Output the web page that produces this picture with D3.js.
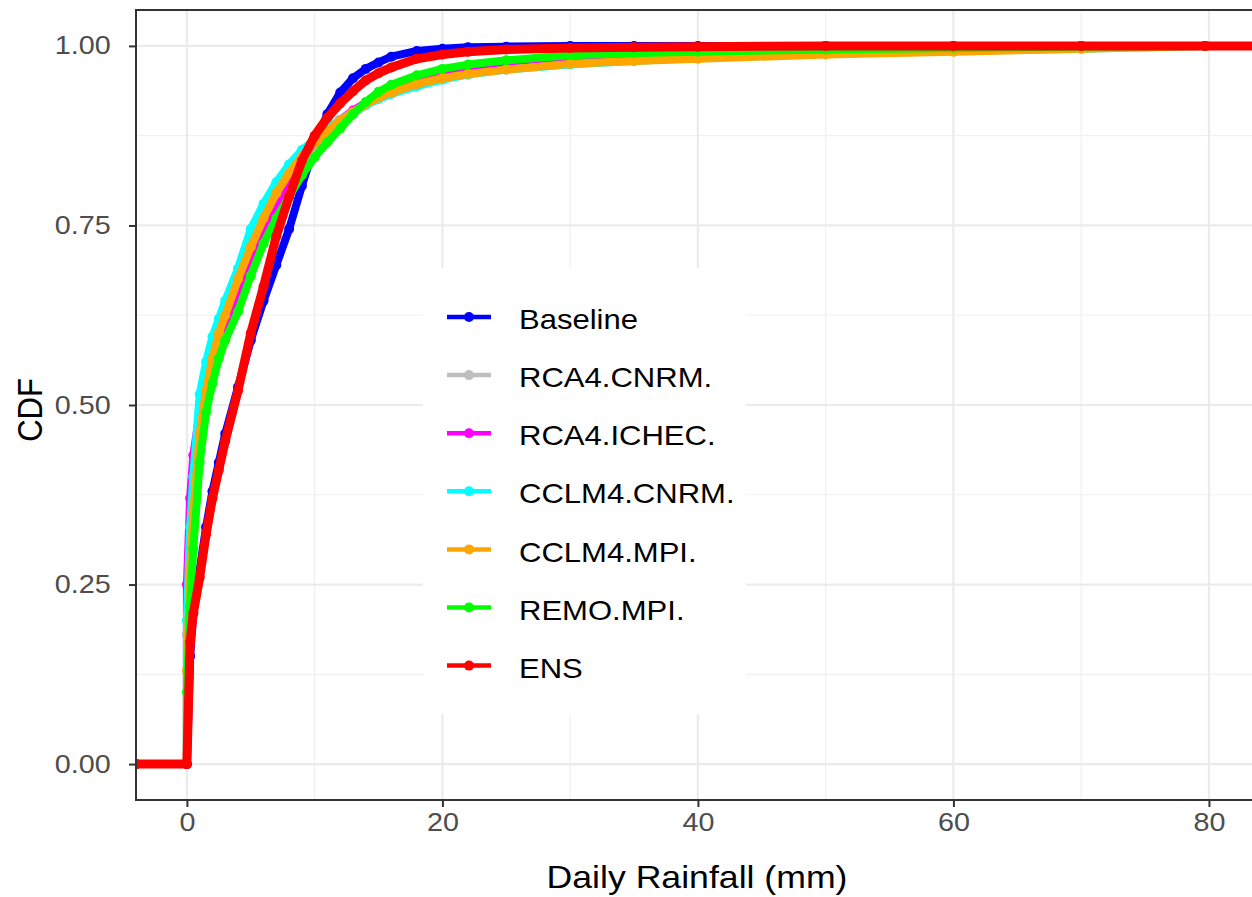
<!DOCTYPE html>
<html>
<head>
<meta charset="utf-8">
<script src="https://cdn.jsdelivr.net/npm/d3@7"></script>
<style>
  body { margin: 0; background: #fff; }
  text { font-family: "Liberation Sans", Arial, sans-serif; }
</style>
</head>
<body>
<svg id="chart" width="1252" height="897"></svg>
<script>
// daily rainfall (mm) at which each CDF is read
var rainfall = [0, 0.25, 0.5, 1, 1.5, 2, 2.5, 3, 4, 5, 6, 7, 8, 9, 10, 11, 12, 13, 14, 15, 16, 18, 20, 22, 25,
  30, 35, 40, 50, 60, 70, 79.7];

var cdfBaseline = [0, 0.15, 0.21, 0.27, 0.33, 0.38, 0.42, 0.46, 0.525, 0.59, 0.645, 0.695, 0.745, 0.805, 0.862, 0.905,
  0.935, 0.955, 0.968, 0.977, 0.985, 0.993, 0.996, 0.998, 0.999, 1, 1, 1, 1, 1, 1, 1];
var cdfRcaCnrm = [0.18, 0.30, 0.38, 0.47, 0.52, 0.56, 0.59, 0.615, 0.66, 0.705, 0.745, 0.78, 0.81, 0.836, 0.858, 0.876,
  0.892, 0.905, 0.917, 0.927, 0.936, 0.949, 0.958, 0.965, 0.972, 0.98, 0.985, 0.988, 0.992, 0.995, 0.998, 1];
var cdfRcaIchec = [0.25, 0.37, 0.43, 0.49, 0.535, 0.57, 0.595, 0.615, 0.66, 0.70, 0.737, 0.78, 0.815, 0.845, 0.865, 0.882,
  0.897, 0.91, 0.921, 0.931, 0.94, 0.952, 0.961, 0.968, 0.975, 0.983, 0.988, 0.991, 0.995, 0.998, 1, 1];
var cdfCclmCnrm = [0.20, 0.33, 0.40, 0.515, 0.56, 0.595, 0.62, 0.645, 0.69, 0.745, 0.78, 0.81, 0.835, 0.855, 0.87, 0.885,
  0.897, 0.908, 0.918, 0.926, 0.933, 0.944, 0.953, 0.96, 0.967, 0.974, 0.979, 0.983, 0.989, 0.993, 0.996, 1];
var cdfCclmMpi = [0.13, 0.27, 0.35, 0.46, 0.52, 0.565, 0.60, 0.625, 0.675, 0.72, 0.76, 0.795, 0.823, 0.846, 0.865, 0.882,
  0.896, 0.908, 0.919, 0.928, 0.935, 0.947, 0.955, 0.961, 0.967, 0.975, 0.979, 0.982, 0.988, 0.992, 0.996, 1];
var cdfRemoMpi = [0.10, 0.22, 0.30, 0.42, 0.49, 0.53, 0.565, 0.59, 0.63, 0.68, 0.725, 0.76, 0.79, 0.82, 0.845, 0.866,
  0.885, 0.905, 0.922, 0.936, 0.946, 0.959, 0.968, 0.974, 0.98, 0.987, 0.99, 0.992, 0.995, 0.997, 0.999, 1];
var cdfEns = [0, 0.17, 0.21, 0.26, 0.32, 0.37, 0.41, 0.45, 0.52, 0.60, 0.665, 0.735, 0.79, 0.84, 0.875, 0.90,
  0.92, 0.937, 0.952, 0.962, 0.97, 0.982, 0.988, 0.992, 0.995, 0.997, 0.998, 0.999, 1, 1, 1, 1];

var seriesNames = ['Baseline', 'RCA4.CNRM.', 'RCA4.ICHEC.', 'CCLM4.CNRM.', 'CCLM4.MPI.', 'REMO.MPI.', 'ENS'];
var seriesValues = [cdfBaseline, cdfRcaCnrm, cdfRcaIchec, cdfCclmCnrm, cdfCclmMpi, cdfRemoMpi, cdfEns];
var seriesColors = ['#0000FF', '#BEBEBE', '#FF00FF', '#00FFFF', '#FFA500', '#00FF00', '#FF0000'];

var xTicks = [0, 20, 40, 60, 80];
var xMinor = [10, 30, 50, 70];
var yTicks = [0, 0.25, 0.5, 0.75, 1];
var yTickLabels = ['0.00', '0.25', '0.50', '0.75', '1.00'];
var yMinor = [0.125, 0.375, 0.625, 0.875];

var panel = {left: 136, top: 10, right: 1256, bottom: 800};
var stretch = 'scale(1.15,1)';

var ext = d3.extent(rainfall);
var padX = (ext[1] - ext[0]) * 0.05;
var x = d3.scaleLinear().domain([ext[0] - padX, ext[1] + padX]).range([panel.left, panel.right]);
var y = d3.scaleLinear().domain([-0.05, 1.05]).range([panel.bottom, panel.top]);

var svg = d3.select('#chart');

svg.append('defs').append('clipPath').attr('id', 'clip')
   .append('rect')
   .attr('x', panel.left).attr('y', panel.top)
   .attr('width', panel.right - panel.left).attr('height', panel.bottom - panel.top);

// grid
var grid = svg.append('g');
grid.selectAll('.xminor').data(xMinor).enter().append('line')
    .attr('x1', d => x(d)).attr('x2', d => x(d))
    .attr('y1', panel.top).attr('y2', panel.bottom)
    .attr('stroke', '#F0F0F0').attr('stroke-width', 1.2);
grid.selectAll('.yminor').data(yMinor).enter().append('line')
    .attr('y1', d => y(d)).attr('y2', d => y(d))
    .attr('x1', panel.left).attr('x2', panel.right)
    .attr('stroke', '#F0F0F0').attr('stroke-width', 1.2);
grid.selectAll('.xmajor').data(xTicks).enter().append('line')
    .attr('x1', d => x(d)).attr('x2', d => x(d))
    .attr('y1', panel.top).attr('y2', panel.bottom)
    .attr('stroke', '#EBEBEB').attr('stroke-width', 2.2);
grid.selectAll('.ymajor').data(yTicks).enter().append('line')
    .attr('y1', d => y(d)).attr('y2', d => y(d))
    .attr('x1', panel.left).attr('x2', panel.right)
    .attr('stroke', '#EBEBEB').attr('stroke-width', 2.2);

// curves (ecdf padded to the panel edges like stat_ecdf)
var line = d3.line().x(d => x(d[0])).y(d => y(d[1]));
var plot = svg.append('g').attr('clip-path', 'url(#clip)');
var xLo = x.domain()[0], xHi = x.domain()[1];

seriesValues.forEach(function(vals, i){
  var pts = rainfall.map((r, j) => [r, vals[j]]);
  var path = [[xLo, 0], [rainfall[0], 0]].concat(pts).concat([[xHi, 1]]);
  var g = plot.append('g');
  g.append('path')
   .attr('d', line(path))
   .attr('fill', 'none')
   .attr('stroke', seriesColors[i])
   .attr('stroke-width', i == 6 ? 9 : 8)
   .attr('stroke-linejoin', 'round');
  g.selectAll('circle')
   .data([[xLo, 0]].concat(pts).concat([[xHi, 1]]))
   .enter().append('circle')
   .attr('cx', d => x(d[0])).attr('cy', d => y(d[1]))
   .attr('r', 5)
   .attr('fill', seriesColors[i]);
});

// legend
var legend = svg.append('g');
legend.append('rect')
      .attr('x', 423).attr('y', 268).attr('width', 323).attr('height', 446)
      .attr('fill', '#fff');
var items = legend.selectAll('.item').data(seriesNames).enter().append('g')
      .attr('transform', (d, i) => 'translate(0,' + (317 + i * 58.1) + ')');
items.append('line')
     .attr('x1', 447).attr('x2', 491).attr('y1', 0).attr('y2', 0)
     .attr('stroke', (d, i) => seriesColors[i]).attr('stroke-width', 4.5);
items.append('circle')
     .attr('cx', 469).attr('cy', 0).attr('r', 5)
     .attr('fill', (d, i) => seriesColors[i]);
items.append('text')
     .text(d => d)
     .attr('transform', 'translate(519,5) ' + stretch)
     .attr('dominant-baseline', 'middle')
     .attr('font-size', '27px')
     .attr('fill', '#000');

// panel border
svg.append('rect')
   .attr('x', panel.left).attr('y', panel.top)
   .attr('width', panel.right - panel.left).attr('height', panel.bottom - panel.top)
   .attr('fill', 'none').attr('stroke', '#333333').attr('stroke-width', 2);

// axes
var xAxis = svg.append('g').attr('transform', 'translate(0,' + panel.bottom + ')')
   .call(d3.axisBottom(x).tickValues(xTicks).tickSize(7).tickPadding(6));
var yAxis = svg.append('g').attr('transform', 'translate(' + panel.left + ',0)')
   .call(d3.axisLeft(y).tickValues(yTicks).tickFormat((d, i) => yTickLabels[i]).tickSize(7).tickPadding(8));
[xAxis, yAxis].forEach(function(a){
  a.select('.domain').remove();
  a.selectAll('.tick line').attr('stroke', '#333333').attr('stroke-width', 2);
  a.selectAll('.tick text')
   .attr('fill', '#4D4D4D')
   .attr('font-size', '25px')
   .attr('font-family', '"Liberation Sans", Arial, sans-serif');
});
xAxis.selectAll('.tick text').attr('transform', stretch);
yAxis.selectAll('.tick text').attr('transform', 'translate(-8,0) ' + stretch);

// titles
svg.append('text')
   .text('Daily Rainfall (mm)')
   .attr('transform', 'translate(697,888) ' + stretch)
   .attr('text-anchor', 'middle')
   .attr('font-size', '31px')
   .attr('fill', '#000');
svg.append('text')
   .text('CDF')
   .attr('transform', 'translate(42,410) rotate(-90) scale(1,1.15)')
   .attr('text-anchor', 'middle')
   .attr('font-size', '31px')
   .attr('fill', '#000');
</script>
</body>
</html>
